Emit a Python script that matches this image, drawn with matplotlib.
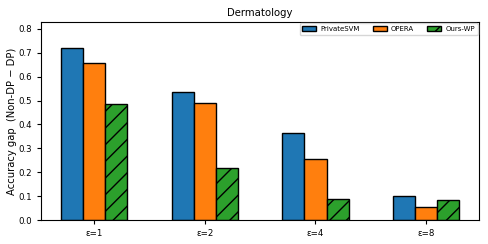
import matplotlib
matplotlib.use("Agg")
import matplotlib.pyplot as plt
import numpy as np

categories = ["ε=1", "ε=2", "ε=4", "ε=8"]
methods = ["PrivateSVM", "OPERA", "Ours-WP"]
private_svm = [0.718, 0.536, 0.363, 0.100]
opera = [0.658, 0.488, 0.254, 0.056]
ours_wp = [0.484, 0.220, 0.087, 0.082]

colors = ["#1f77b4", "#ff7f0e", "#2ca02c"]
hatches = [None, None, "//"]

fig = plt.figure(figsize=(4.88, 2.44), dpi=100)
ax = fig.add_axes([0.084, 0.098, 0.898, 0.812])

x = np.arange(len(categories))
width = 0.2
series = [private_svm, opera, ours_wp]
for i, vals in enumerate(series):
    ax.bar(x + (i - 1) * width, vals, width, color=colors[i],
           edgecolor="black", linewidth=1.0, hatch=hatches[i],
           label=methods[i])

ax.set_xticks(x)
ax.set_xticklabels(categories)
ax.tick_params(axis="both", labelsize=6.2, length=3)
ax.set_ylim(0, 0.829)
ax.set_ylabel("Accuracy gap  (Non-DP − DP)", fontsize=7.2, labelpad=1)
ax.set_title("Dermatology", fontsize=7.3, pad=4)
ax.legend(loc="upper right", ncol=3, fontsize=5, frameon=True,
          handlelength=2.0, handletextpad=0.6, columnspacing=1.9,
          borderaxespad=0.2)

fig.savefig("out.png", dpi=100)
